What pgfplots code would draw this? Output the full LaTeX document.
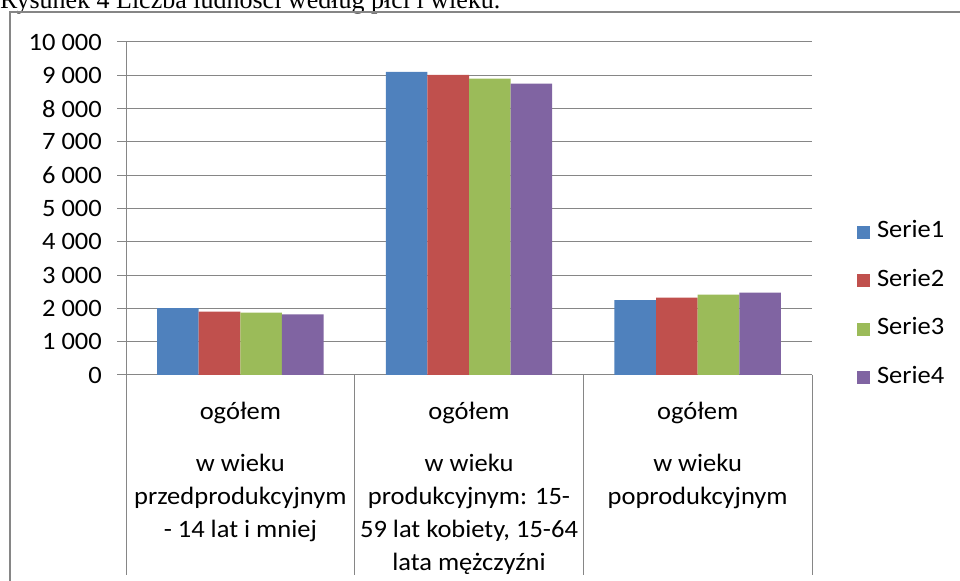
\documentclass[border=0pt]{standalone}
\usepackage{pgfplots}
\pgfplotsset{compat=1.18}
\usepackage{fontspec}
\setmainfont{Carlito}[FakeStretch=1.06]
\newfontfamily\titlefont{Liberation Serif}
\definecolor{s1}{HTML}{4F81BD}
\definecolor{s2}{HTML}{C0504D}
\definecolor{s3}{HTML}{9BBB59}
\definecolor{s4}{HTML}{8064A2}
\definecolor{gridgray}{HTML}{868686}
\begin{document}
\fontsize{25bp}{33bp}\selectfont
\begin{tikzpicture}[x=1bp,y=1bp]
\useasboundingbox (0,0) rectangle (960,581);
\clip (0,0) rectangle (960,581);
\node[anchor=base west, inner sep=0pt, font=\titlefont\fontsize{26bp}{28bp}\selectfont] at (0,572) {Rysunek 4 Liczba ludności według płci i wieku.};
\draw[gridgray, line width=2bp] (10,-10) -- (10,568.5) -- (975,568.5);
\begin{axis}[
  at={(126bp,206bp)}, anchor=south west,
  scale only axis, width=686bp, height=333bp,
  xmin=-0.5, xmax=2.5, ymin=0, ymax=10000,
  axis lines=left,
  axis line style={draw=gridgray, line width=1bp, -},
  ybar=0pt, bar width=41.6bp,
  ytick={0,1000,...,10000},
  ymajorgrids, grid style={gridgray, line width=1bp},
  major tick length=9bp, tick align=outside,
  tick style={gridgray, line width=1bp},
  scaled y ticks=false,
  /pgf/number format/assume math mode=true,
  /pgf/number format/1000 sep={\ },
  yticklabel style={anchor=east, inner sep=0pt, xshift=-15bp},
  xtick={0,1,2},
  x tick style={draw=none},
  xticklabels={
    {ogółem\\[19bp]w wieku\\przedprodukcyjnym\\- 14 lat i mniej},
    {ogółem\\[19bp]w wieku\\produkcyjnym: 15-\\59 lat kobiety, 15-64\\lata mężczyźni},
    {ogółem\\[19bp]w wieku\\poprodukcyjnym}},
  xticklabel style={align=center, anchor=north, inner sep=0pt, yshift=-18bp},
  legend style={at={(1.0656,0.4625)}, anchor=north west, draw=none, fill=none,
    inner sep=0pt, outer sep=0pt, row sep=25.5bp, column sep=7bp,
    nodes={inner sep=0pt, text height=17bp, text depth=6bp, anchor=west}},
  legend cell align=left,
  sq legend/.style={legend image code/.code={\fill[##1] (0bp,-6.5bp) rectangle (13bp,6.5bp);}},
  clip=false,
]
\addplot[fill=s1, draw=none, sq legend] coordinates {(0,2010) (1,9100) (2,2250)};
\addplot[fill=s2, draw=none, sq legend] coordinates {(0,1900) (1,9010) (2,2320)};
\addplot[fill=s3, draw=none, sq legend] coordinates {(0,1870) (1,8900) (2,2410)};
\addplot[fill=s4, draw=none, sq legend] coordinates {(0,1820) (1,8750) (2,2470)};
\legend{Serie1,Serie2,Serie3,Serie4}
\draw[gridgray, line width=1bp] (axis cs:-0.5,0) -- ([yshift=-200bp]axis cs:-0.5,0);
\draw[gridgray, line width=1bp] (axis cs:0.5,0) -- ([yshift=-200bp]axis cs:0.5,0);
\draw[gridgray, line width=1bp] (axis cs:1.5,0) -- ([yshift=-200bp]axis cs:1.5,0);
\draw[gridgray, line width=1bp] (axis cs:2.5,0) -- ([yshift=-200bp]axis cs:2.5,0);
\end{axis}
\end{tikzpicture}
\end{document}
